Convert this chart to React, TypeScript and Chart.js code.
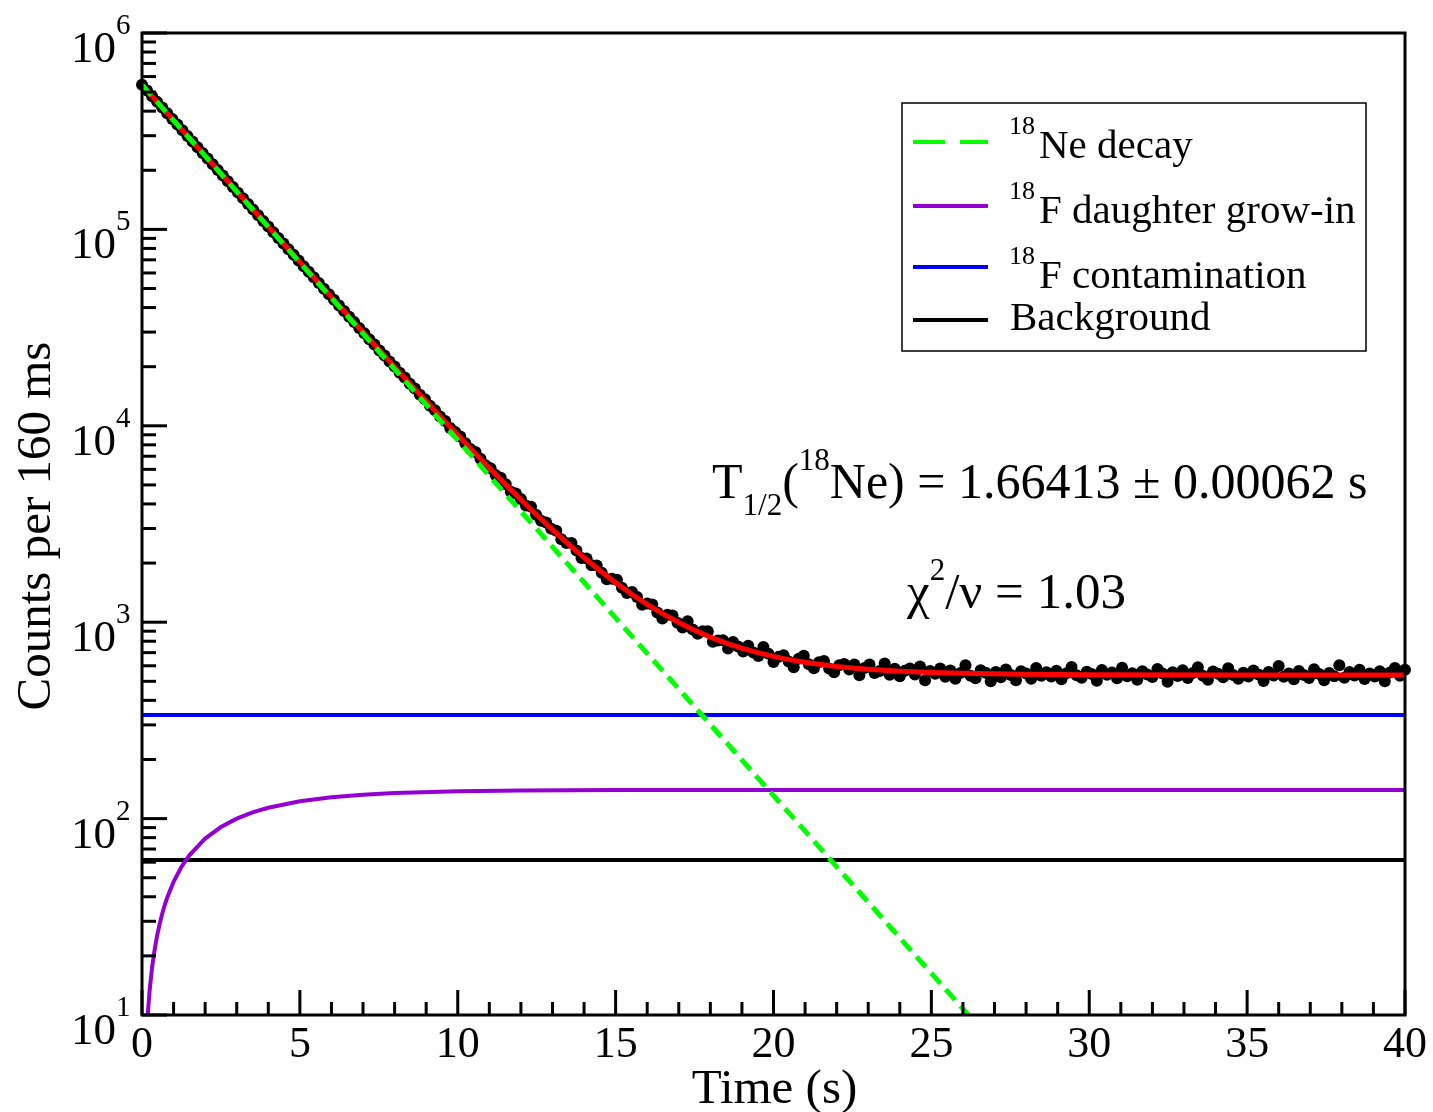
import React, { useEffect, useRef } from 'react';
import { Chart, registerables } from 'chart.js';

Chart.register(...registerables);

const FONT = '"Liberation Serif", "DejaVu Serif", serif';

// Measured counts per 160 ms bin, first bin at t = 0 s
const binWidth = 0.16;
const counts = [
  544500, 509500, 476700, 446000, 417300, 390400, 365300, 341800, 319800, 299200,
  279900, 261900, 245100, 229300, 214600, 200800, 187900, 175800, 164500, 153900,
  144000, 134800, 126100, 118000, 110400, 103400, 96700, 90500, 84700, 79300,
  74200, 69500, 65000, 60900, 57000, 53300, 49900, 46800, 43800, 41000,
  38450, 35870, 33720, 31460, 29600, 27590, 25950, 24210, 22810, 21250,
  20050, 18650, 17610, 16380, 15480, 14400, 13640, 12660, 12010, 11140,
  10568, 9755, 9302, 8812, 8147, 7611, 7365, 6798, 6291, 6072,
  5618, 5435, 5038, 4611, 4524, 4237, 3930, 3875, 3528, 3288,
  3215, 2989, 2922, 2641, 2529, 2532, 2317, 2123, 2111, 1947,
  1942, 1786, 1655, 1665, 1645, 1499, 1410, 1423, 1342, 1226,
  1246, 1231, 1119, 1043, 1090, 1083, 993, 939, 1010, 919,
  873, 899, 899, 795, 808, 810, 735, 793, 752, 710,
  759, 701, 672, 748, 691, 627, 666, 679, 630, 589,
  652, 674, 610, 583, 625, 635, 581, 556, 603, 612,
  574, 609, 537, 585, 609, 551, 565, 616, 540, 579,
  530, 566, 581, 541, 595, 506, 564, 547, 581, 528,
  567, 515, 551, 604, 534, 519, 570, 553, 501, 557,
  524, 574, 539, 506, 562, 548, 516, 584, 533, 556,
  529, 566, 512, 549, 592, 537, 521, 560, 545, 503,
  571, 540, 555, 518, 587, 530, 549, 510, 563, 541,
  526, 578, 548, 497, 556, 532, 569, 520, 551, 590,
  534, 509, 561, 546, 524, 583, 538, 515, 553, 529,
  567, 541, 502, 558, 535, 599, 527, 548, 512, 564,
  539, 520, 576, 545, 507, 552, 531, 604, 522, 557,
  536, 573, 514, 548, 529, 562, 501, 554, 585, 533,
  572,
];

// Total fit (red)
const fitTimes = [0, 0.5, 1, 1.5, 2, 2.5, 3, 3.5, 4, 4.5, 5, 5.5, 6, 6.5, 7, 7.5, 8, 8.5, 9, 9.5,
  10, 10.5, 11, 11.5, 12, 12.5, 13, 13.5, 14, 14.5, 15, 15.5, 16, 16.5, 17, 17.5, 18, 18.5, 19, 19.5,
  20, 20.5, 21, 21.5, 22, 22.5, 23, 23.5, 24, 25, 26, 28, 30, 35, 40];
const fitValues = [544398, 442135, 359125, 291700, 236968, 192515, 156424, 127116, 103321, 83996,
  68306, 55565, 45220, 36818, 29999, 24460, 19963, 16311, 13345, 10938,
  8982, 7395, 6106, 5059, 4210, 3520, 2959, 2504, 2134, 1834,
  1590, 1392, 1232, 1102, 996, 910, 840, 783, 737, 700,
  670, 645, 625, 609, 595.5, 585, 576, 569, 563, 555, 549, 543, 540.5, 538.7, 538.5];

// 18Ne decay component (green dashed)
const neTimes = [0, 5, 10, 15, 20, 25, 26.2];
const neValues = [544000, 67785, 8446, 1052, 131.1, 16.3, 9.9];

// 18F daughter grow-in (purple)
const growTimes = [0.16, 0.24, 0.32, 0.4, 0.48, 0.56, 0.64, 0.72, 0.8, 1, 1.25, 1.5, 2, 2.5, 3, 3.5, 4, 5, 6, 7, 8, 10, 12, 15, 20, 40];
const growValues = [9.0, 13.3, 17.5, 21.5, 25.4, 29.1, 32.8, 36.3, 39.7, 47.7, 56.8, 65.0, 79.1, 90.6, 99.9, 107.5, 113.6, 122.6, 128.5, 132.4, 135.0, 137.8, 139.1, 139.7, 140, 140];

// 18F contamination (blue) and background (black)
const contamTimes = [0, 40];
const contamValues = [337, 337];
const bgTimes = [0, 40];
const bgValues = [61.5, 61.5];

const xMajorTicks = [0, 5, 10, 15, 20, 25, 30, 35, 40];
const yDecadeExponents = [1, 2, 3, 4, 5, 6];

const legendItems = [
  { sup: '18', text: 'Ne decay', color: '#00ff00', dash: [32, 15] },
  { sup: '18', text: 'F daughter grow-in', color: '#9400d3', dash: [] },
  { sup: '18', text: 'F contamination', color: '#0000ff', dash: [] },
  { sup: '', text: 'Background', color: '#000000', dash: [] },
];

const zip = (xs: number[], ys: number[]) => xs.map((x, i) => ({ x, y: ys[i] }));

function drawParts(ctx: CanvasRenderingContext2D, x: number, parts: { t: string; s: number; y: number }[]) {
  let cx = x;
  for (const p of parts) {
    ctx.font = `${p.s}px ${FONT}`;
    ctx.fillText(p.t, cx, p.y);
    cx += ctx.measureText(p.t).width;
  }
}

const decorPlugin = {
  id: 'decor',
  afterDatasetsDraw(chart: any) {
    const { ctx, chartArea: a } = chart;
    const xs = chart.scales.x;
    const ys = chart.scales.y;
    ctx.save();
    ctx.fillStyle = '#000';
    ctx.strokeStyle = '#000';
    ctx.lineCap = 'butt';
    ctx.textBaseline = 'alphabetic';

    // frame
    ctx.lineWidth = 3;
    ctx.strokeRect(a.left, a.top, a.right - a.left, a.bottom - a.top);

    const seg = (x1: number, y1: number, x2: number, y2: number) => {
      ctx.beginPath(); ctx.moveTo(x1, y1); ctx.lineTo(x2, y2); ctx.stroke();
    };

    // x ticks
    ctx.lineWidth = 3;
    for (let v = xMajorTicks[0]; v <= xMajorTicks[xMajorTicks.length - 1]; v += 1) {
      const px = xs.getPixelForValue(v);
      const major = xMajorTicks.includes(v);
      seg(px, a.bottom, px, a.bottom - (major ? 25 : 13));
    }
    // y ticks
    for (const e of yDecadeExponents) {
      for (let m = 1; m <= 9; m++) {
        if (e === yDecadeExponents[yDecadeExponents.length - 1] && m > 1) break;
        const py = ys.getPixelForValue(m * Math.pow(10, e));
        seg(a.left, py, a.left + (m === 1 ? 25 : 14), py);
      }
    }

    // x tick labels
    ctx.font = `44px ${FONT}`;
    ctx.textAlign = 'center';
    for (const v of xMajorTicks) {
      ctx.fillText(String(v), xs.getPixelForValue(v), a.bottom + 42);
    }
    // y tick labels
    ctx.textAlign = 'left';
    for (const e of yDecadeExponents) {
      const py = ys.getPixelForValue(Math.pow(10, e));
      ctx.font = `45px ${FONT}`;
      ctx.fillText('10', 71, py + 29);
      const w = ctx.measureText('10').width;
      ctx.font = `29px ${FONT}`;
      ctx.fillText(String(e), 71 + w, py + 1);
    }

    // axis titles
    ctx.font = `49px ${FONT}`;
    ctx.textAlign = 'center';
    ctx.fillText('Time (s)', (a.left + a.right) / 2 + 1, 1103);
    ctx.save();
    ctx.translate(50, 526);
    ctx.rotate(-Math.PI / 2);
    ctx.fillText('Counts per 160 ms', 0, 0);
    ctx.restore();

    // annotations
    ctx.textAlign = 'left';
    drawParts(ctx, 712, [
      { t: 'T', s: 50, y: 498 },
      { t: '1/2', s: 31, y: 515 },
      { t: '(', s: 50, y: 498 },
      { t: '18', s: 31, y: 470 },
      { t: 'Ne) = 1.66413 \u00b1 0.00062 s', s: 50, y: 498 },
    ]);
    drawParts(ctx, 907, [
      { t: '\u03c7', s: 51, y: 608 },
      { t: '2', s: 31, y: 580 },
      { t: '/\u03bd = 1.03', s: 51, y: 608 },
    ]);

    // legend
    const lx = 902, ly = 103, lw = 464, lh = 248;
    ctx.fillStyle = '#fff';
    ctx.fillRect(lx, ly, lw, lh);
    ctx.lineWidth = 1.5;
    ctx.strokeStyle = '#000';
    ctx.strokeRect(lx, ly, lw, lh);
    const lineYs = [142, 206, 267, 320];
    const textYs = [158, 223, 288, 330];
    legendItems.forEach((it, i) => {
      ctx.strokeStyle = it.color;
      ctx.lineWidth = 4;
      ctx.setLineDash(it.dash);
      seg(913, lineYs[i], 988, lineYs[i]);
      ctx.setLineDash([]);
      ctx.fillStyle = '#000';
      if (it.sup) {
        ctx.font = `26px ${FONT}`;
        ctx.fillText(it.sup, 1009, textYs[i] - 24);
        ctx.font = `41px ${FONT}`;
        ctx.fillText(it.text, 1039, textYs[i]);
      } else {
        ctx.font = `41px ${FONT}`;
        ctx.fillText(it.text, 1010, textYs[i]);
      }
    });
    ctx.restore();
  },
};

export default function App() {
  const ref = useRef<HTMLCanvasElement | null>(null);
  useEffect(() => {
    if (!ref.current) return;
    const dataPts = counts.map((c, i) => ({ x: i * binWidth, y: c }));
    const chart = new Chart(ref.current, {
      type: 'line',
      data: {
        datasets: [
          {
            label: '18Ne decay', data: zip(neTimes, neValues), borderColor: '#00ff00', borderWidth: 5,
            borderDash: [14, 8], pointRadius: 0, tension: 0, order: 0, fill: false,
          },
          {
            label: 'Fit', data: zip(fitTimes, fitValues), borderColor: '#ff0000', borderWidth: 5,
            pointRadius: 0, tension: 0, order: 1, fill: false,
          },
          {
            label: 'Data', data: dataPts, showLine: false, pointRadius: 6, pointHoverRadius: 6,
            pointBackgroundColor: '#000', pointBorderWidth: 0, borderColor: '#000', order: 2, clip: false as any,
          },
          {
            label: '18F contamination', data: zip(contamTimes, contamValues), borderColor: '#0000ff', borderWidth: 4,
            pointRadius: 0, order: 3, fill: false,
          },
          {
            label: '18F daughter grow-in', data: zip(growTimes, growValues), borderColor: '#9400d3', borderWidth: 4,
            pointRadius: 0, tension: 0, order: 4, fill: false,
          },
          {
            label: 'Background', data: zip(bgTimes, bgValues), borderColor: '#000000', borderWidth: 4,
            pointRadius: 0, order: 5, fill: false,
          },
        ],
      },
      options: {
        animation: false,
        responsive: false,
        devicePixelRatio: 1,
        events: [],
        layout: { padding: { left: 142, right: 28, top: 33, bottom: 97 } },
        plugins: { legend: { display: false }, tooltip: { enabled: false }, title: { display: false } },
        scales: {
          x: { type: 'linear', min: 0, max: 40, display: false },
          y: { type: 'logarithmic', min: 10, max: 1000000, display: false },
        },
      },
      plugins: [decorPlugin],
    });
    return () => chart.destroy();
  }, []);
  return (
    <div style={{ position: 'absolute', left: 0, top: 0, width: 1433, height: 1112, background: '#fff' }}>
      <canvas ref={ref} width={1433} height={1112} style={{ width: 1433, height: 1112, display: 'block' }} />
    </div>
  );
}
